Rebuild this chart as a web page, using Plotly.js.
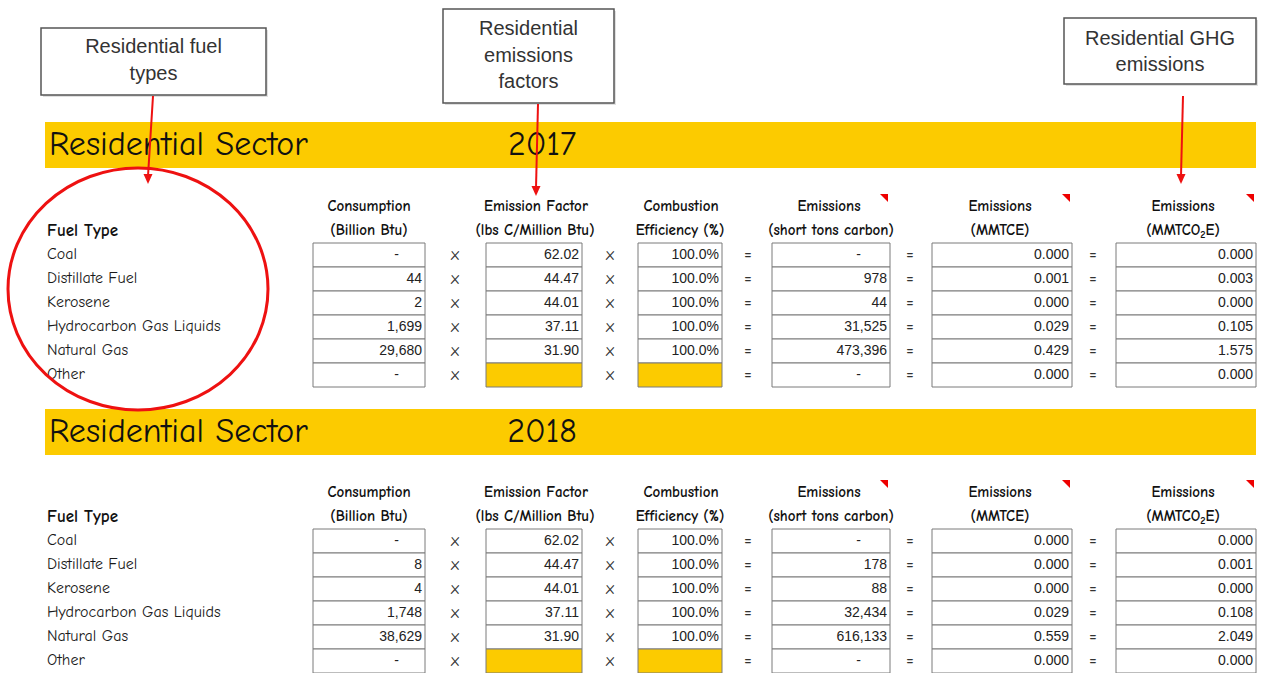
<!DOCTYPE html>
<html>
<head>
<meta charset="utf-8">
<script src="https://cdn.plot.ly/plotly-3.0.1.min.js"></script>
<style>html,body{margin:0;padding:0;background:#fff;}#chart{width:1286px;height:673px;}</style>
</head>
<body>
<div id="chart"></div>
<script>
// ---------- DATA ----------
const fuelTypes = ['Coal', 'Distillate Fuel', 'Kerosene', 'Hydrocarbon Gas Liquids', 'Natural Gas', 'Other'];
const years = ['2017', '2018'];
const consumption2017 = [0, 44, 2, 1699, 29680, 0];
const consumption2018 = [0, 8, 4, 1748, 38629, 0];
const emissionFactor = [62.02, 44.47, 44.01, 37.11, 31.90, null];
const combustionEff = [100.0, 100.0, 100.0, 100.0, 100.0, null];
const shortTons2017 = [0, 978, 44, 31525, 473396, 0];
const shortTons2018 = [0, 178, 88, 32434, 616133, 0];
const mmtce2017 = [0.000, 0.001, 0.000, 0.029, 0.429, 0.000];
const mmtce2018 = [0.000, 0.000, 0.000, 0.029, 0.559, 0.000];
const mmtco2e2017 = [0.000, 0.003, 0.000, 0.105, 1.575, 0.000];
const mmtco2e2018 = [0.000, 0.001, 0.000, 0.108, 2.049, 0.000];
const headerLine1 = ['Consumption', 'Emission Factor', 'Combustion', 'Emissions', 'Emissions', 'Emissions'];
const headerLine2 = ['(Billion Btu)', '(lbs C/Million Btu)', 'Efficiency (%)', '(short tons carbon)', '(MMTCE)', '(MMTCO<sub>2</sub>E)'];
const operators = ['x', 'x', '=', '=', '='];
const callouts = [['Residential fuel', 'types'], ['Residential', 'emissions', 'factors'], ['Residential GHG', 'emissions']];
const sectorTitle = 'Residential Sector';

// ---------- LAYOUT CONFIG (positions / styles) ----------
const COMIC = '"Comic Sans MS", "Comic Neue", "DejaVu Sans Condensed", sans-serif';
const ARIAL = '"Liberation Sans", Arial, sans-serif';
const YEL = '#FCCB00';
const RED = '#EE1111';
const cols = [
  {x0: 313, x1: 425, hx: 369, hx2: 369},
  {x0: 486, x1: 582, hx: 536, hx2: 535},
  {x0: 638, x1: 722, hx: 681, hx2: 680},
  {x0: 772, x1: 890, hx: 829, hx2: 831},
  {x0: 932, x1: 1072, hx: 1000, hx2: 1000},
  {x0: 1116, x1: 1256, hx: 1183, hx2: 1183}
];
const opX = [455, 610, 748, 910, 1093];
const sections = [
  {bandY0: 122, bandY1: 168, hdr1: 207, hdr2: 231, rowTop: 243, rowH: 24},
  {bandY0: 409, bandY1: 455, hdr1: 493, hdr2: 517, rowTop: 529, rowH: 24}
];
const calloutBoxes = [
  {x0: 41, x1: 266, y0: 28, y1: 95, lineY: [48, 75], arrow: [153, 96, 148, 184]},
  {x0: 443, x1: 614, y0: 9, y1: 103, lineY: [30, 57, 83], arrow: [538, 104, 536, 196]},
  {x0: 1064, x1: 1256, y0: 18, y1: 84, lineY: [40, 66], arrow: [1183, 96, 1181, 184]}
];

// ---------- FORMATTERS ----------
const fmtInt = v => v === 0 ? '-' : v.toLocaleString('en-US');
const fmt2 = v => v.toFixed(2);
const fmtPct = v => v.toFixed(1) + '%';
const fmt3 = v => v.toFixed(3);

const seriesByYear = [
  [consumption2017, emissionFactor, combustionEff, shortTons2017, mmtce2017, mmtco2e2017],
  [consumption2018, emissionFactor, combustionEff, shortTons2018, mmtce2018, mmtco2e2018]
];
const formatters = [fmtInt, fmt2, fmtPct, fmtInt, fmt3, fmt3];

const shapes = [];
const traces = [];

function textTrace(xs, ys, texts, opts) {
  traces.push({
    type: 'scatter', mode: 'text', x: xs, y: ys, text: texts,
    textposition: opts.pos || 'middle center',
    textfont: {family: opts.family, size: opts.size, color: opts.color || '#111'},
    hoverinfo: 'skip', showlegend: false, cliponaxis: false
  });
}

// callouts
calloutBoxes.forEach((b, i) => {
  shapes.push({type: 'rect', xref: 'x', yref: 'y', x0: b.x0 + 2, x1: b.x1 + 2, y0: b.y0 + 2, y1: b.y1 + 2,
    line: {width: 0}, fillcolor: 'rgba(0,0,0,0.12)', layer: 'below'});
  shapes.push({type: 'rect', xref: 'x', yref: 'y', x0: b.x0, x1: b.x1, y0: b.y0, y1: b.y1,
    line: {color: '#555', width: 1.5}, fillcolor: '#fff', layer: 'below'});
  textTrace(callouts[i].map(() => (b.x0 + b.x1) / 2), b.lineY, callouts[i],
    {family: ARIAL, size: 20, color: '#333'});
  const [tx, ty, hx, hy] = b.arrow;
  shapes.push({type: 'line', xref: 'x', yref: 'y', x0: tx, y0: ty, x1: hx, y1: hy - 8,
    line: {color: RED, width: 2}});
  shapes.push({type: 'path', xref: 'x', yref: 'y',
    path: `M ${hx - 4.5} ${hy - 10} L ${hx + 4.5} ${hy - 10} L ${hx} ${hy} Z`,
    fillcolor: RED, line: {width: 0}});
});

// sections
sections.forEach((s, si) => {
  shapes.push({type: 'rect', xref: 'x', yref: 'y', x0: 45, x1: 1256, y0: s.bandY0, y1: s.bandY1,
    line: {width: 0}, fillcolor: YEL, layer: 'below'});
  const bandMid = (s.bandY0 + s.bandY1) / 2 + 1;
  textTrace([49], [bandMid], [sectorTitle], {pos: 'middle right', family: COMIC, size: 34, color: '#111'});
  textTrace([542], [bandMid], [years[si]], {family: COMIC, size: 34, color: '#111'});

  // headers
  textTrace(cols.map(c => c.hx), cols.map(() => s.hdr1), headerLine1.map(t => '<b>' + t + '</b>'), {family: COMIC, size: 15, color: '#111'});
  textTrace(cols.map(c => c.hx2), cols.map(() => s.hdr2), headerLine2.map(t => '<b>' + t + '</b>'), {family: COMIC, size: 15, color: '#111'});
  textTrace([47], [s.hdr2 + 1], ['<b>Fuel Type</b>'], {pos: 'middle right', family: COMIC, size: 17});
  // red comment markers
  [3, 4, 5].forEach(ci => {
    const c = cols[ci], ty = s.hdr1 - 13;
    shapes.push({type: 'path', xref: 'x', yref: 'y',
      path: `M ${c.x1 - 10} ${ty} L ${c.x1 - 2} ${ty} L ${c.x1 - 2} ${ty + 8} Z`,
      fillcolor: '#EE0000', line: {width: 0}});
  });

  // rows
  const rowY = fuelTypes.map((f, r) => s.rowTop + s.rowH * (r + 0.5));
  textTrace(fuelTypes.map(() => 47), rowY, fuelTypes, {pos: 'middle right', family: COMIC, size: 16, color: '#1a1a1a'});

  cols.forEach((c, ci) => {
    const vals = seriesByYear[si][ci];
    const xs = [], ys = [], txt = [];
    vals.forEach((v, r) => {
      const empty = v == null;
      shapes.push({type: 'rect', xref: 'x', yref: 'y', x0: c.x0, x1: c.x1,
        y0: s.rowTop + s.rowH * r, y1: s.rowTop + s.rowH * (r + 1),
        line: {color: '#7a7a7a', width: 1}, fillcolor: empty ? YEL : '#fff', layer: 'below'});
      if (!empty) {
        const dash = v === 0 && (ci === 0 || ci === 3);
        xs.push(dash ? (c.x0 + c.x1) / 2 + 30 : c.x1 - 3);
        ys.push(rowY[r]);
        txt.push(formatters[ci](v));
      }
    });
    textTrace(xs, ys, txt, {pos: 'middle left', family: ARIAL, size: 14, color: '#222'});
  });

  opX.forEach((ox, oi) => {
    textTrace(fuelTypes.map(() => ox), rowY.map(y => y + 1), fuelTypes.map(() => operators[oi]),
      {family: COMIC, size: 17, color: '#333'});
  });
});

// red circle
shapes.push({type: 'circle', xref: 'x', yref: 'y', x0: 8, x1: 268, y0: 168, y1: 410,
  line: {color: RED, width: 3}});

const layout = {
  width: 1286, height: 673,
  margin: {l: 0, r: 0, t: 0, b: 0, pad: 0},
  paper_bgcolor: '#fff', plot_bgcolor: '#fff',
  xaxis: {range: [0, 1286], visible: false, fixedrange: true},
  yaxis: {range: [673, 0], visible: false, fixedrange: true},
  shapes: shapes, showlegend: false
};
Plotly.newPlot('chart', traces, layout, {displayModeBar: false, staticPlot: true});
</script>
</body>
</html>
